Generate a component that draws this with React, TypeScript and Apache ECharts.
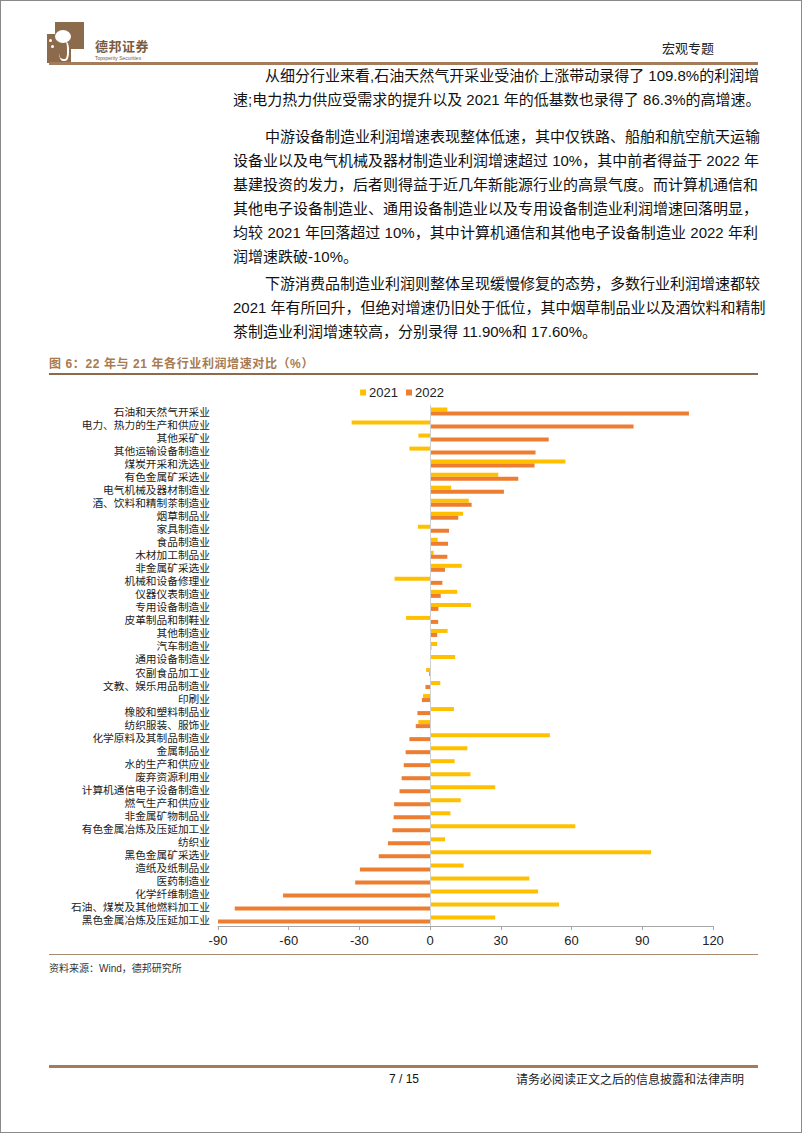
import React, { useEffect, useRef } from "react";
import * as echarts from "echarts";

const categories = [
  "石油和天然气开采业",
  "电力、热力的生产和供应业",
  "其他采矿业",
  "其他运输设备制造业",
  "煤炭开采和洗选业",
  "有色金属矿采选业",
  "电气机械及器材制造业",
  "酒、饮料和精制茶制造业",
  "烟草制品业",
  "家具制造业",
  "食品制造业",
  "木材加工制品业",
  "非金属矿采选业",
  "机械和设备修理业",
  "仪器仪表制造业",
  "专用设备制造业",
  "皮革制品和制鞋业",
  "其他制造业",
  "汽车制造业",
  "通用设备制造业",
  "农副食品加工业",
  "文教、娱乐用品制造业",
  "印刷业",
  "橡胶和塑料制品业",
  "纺织服装、服饰业",
  "化学原料及其制品制造业",
  "金属制品业",
  "水的生产和供应业",
  "废弃资源利用业",
  "计算机通信电子设备制造业",
  "燃气生产和供应业",
  "非金属矿物制品业",
  "有色金属冶炼及压延加工业",
  "纺织业",
  "黑色金属矿采选业",
  "造纸及纸制品业",
  "医药制造业",
  "化学纤维制造业",
  "石油、煤炭及其他燃料加工业",
  "黑色金属冶炼及压延加工业",
];

const values2021 = [
  7.3, -33.3, -5.0, -8.8, 57.4, 28.9, 8.9, 16.4, 14.0, -5.2, 3.2, 1.5, 13.4,
  -15.1, 11.5, 17.3, -10.2, 7.4, 3.0, 10.6, -1.7, 4.3, -3.0, 10.1, -5.0, 50.8,
  15.8, 10.4, 17.1, 27.6, 13.0, 8.6, 61.6, 6.3, 93.7, 14.2, 42.1, 45.8, 54.7,
  27.6,
];

const values2022 = [
  109.8, 86.3, 50.3, 44.7, 44.3, 37.4, 31.3, 17.6, 11.9, 8.0, 7.6, 7.3, 6.3,
  5.2, 4.5, 3.5, 3.4, 3.0, 0.5, 0.2, -0.4, -2.0, -3.5, -5.4, -6.1, -8.8, -10.4,
  -11.2, -12.1, -13.0, -15.3, -15.5, -16.0, -17.9, -21.8, -29.8, -31.8, -62.4,
  -82.9, -90.1,
];

const seriesNames = ["2021", "2022"];
const xTicks = { min: -90, max: 120, interval: 30 };

const para1 = [
  "从细分行业来看,石油天然气开采业受油价上涨带动录得了 109.8%的利润增",
  "速;电力热力供应受需求的提升以及 2021 年的低基数也录得了 86.3%的高增速。",
];
const para2 = [
  "中游设备制造业利润增速表现整体低速，其中仅铁路、船舶和航空航天运输",
  "设备业以及电气机械及器材制造业利润增速超过 10%，其中前者得益于 2022 年",
  "基建投资的发力，后者则得益于近几年新能源行业的高景气度。而计算机通信和",
  "其他电子设备制造业、通用设备制造业以及专用设备制造业利润增速回落明显，",
  "均较 2021 年回落超过 10%，其中计算机通信和其他电子设备制造业 2022 年利",
  "润增速跌破-10%。",
];
const para3 = [
  "下游消费品制造业利润则整体呈现缓慢修复的态势，多数行业利润增速都较",
  "2021 年有所回升，但绝对增速仍旧处于低位，其中烟草制品业以及酒饮料和精制",
  "茶制造业利润增速较高，分别录得 11.90%和 17.60%。",
];

const FONT = '"Liberation Sans", "Noto Sans CJK SC", sans-serif';
const BROWN = "#a27c5b";

function Paragraph({ lines, top, lh }: { lines: string[]; top: number; lh: number }) {
  return (
    <>
      {lines.map((t, i) => {
        const first = i === 0;
        const last = i === lines.length - 1;
        return (
          <div
            key={i}
            style={{
              position: "absolute",
              left: first ? 264 : 232,
              width: first ? 493 : 525,
              top: top + i * lh - lh / 2,
              height: lh,
              lineHeight: lh + "px",
              fontSize: 15,
              color: "#111",
              whiteSpace: "nowrap",
              textAlign: last ? "left" : "justify",
              textAlignLast: last ? "left" : "justify",
              fontFamily: FONT,
            }}
          >
            {t}
          </div>
        );
      })}
    </>
  );
}

function Chart() {
  const ref = useRef<HTMLDivElement>(null);
  useEffect(() => {
    if (!ref.current) return;
    const chart = echarts.init(ref.current, null, { renderer: "svg" });
    chart.setOption({
      animation: false,
      legend: {
        data: seriesNames,
        top: 0,
        left: "center",
        itemWidth: 6,
        itemHeight: 6,
        itemGap: 8,
        icon: "rect",
        textStyle: { fontSize: 13, color: "#222", fontFamily: FONT, padding: [0, 0, 0, -2] },
      },
      grid: { left: 217, right: 90, top: 24, bottom: 30 },
      xAxis: {
        type: "value",
        min: xTicks.min,
        max: xTicks.max,
        interval: xTicks.interval,
        axisLine: { show: true, lineStyle: { color: "#a6a6a6", width: 1 } },
        axisTick: { show: true, length: 4, lineStyle: { color: "#a6a6a6" } },
        axisLabel: { fontSize: 13, color: "#222", fontFamily: FONT, margin: 8 },
        splitLine: { show: false },
      },
      yAxis: {
        type: "category",
        inverse: true,
        data: categories,
        axisLine: { show: false, onZero: false },
        axisTick: { show: false },
        axisLabel: {
          fontSize: 10.7,
          color: "#222",
          fontFamily: '"Noto Sans CJK SC", sans-serif',
          margin: 8,
          interval: 0,
        },
      },
      series: [
        {
          name: seriesNames[0],
          type: "bar",
          data: values2021,
          barWidth: 4,
          barGap: "0%",
          itemStyle: { color: "#ffc000" },
          markLine: {
            silent: true,
            symbol: "none",
            label: { show: false },
            lineStyle: { color: "#d0d0d0", width: 1, type: "solid" },
            data: [{ xAxis: 0 }],
          },
        },
        {
          name: seriesNames[1],
          type: "bar",
          data: values2022,
          barWidth: 4,
          barGap: "0%",
          itemStyle: { color: "#ed7d31" },
        },
      ],
    });
    return () => chart.dispose();
  }, []);
  return (
    <div
      ref={ref}
      style={{ position: "absolute", left: 0, top: 380, width: 802, height: 575 }}
    />
  );
}

export default function App() {
  useEffect(() => {
    document.body.style.margin = "0";
  }, []);
  return (
    <div
      style={{
        position: "absolute",
        left: 0,
        top: 0,
        width: 802,
        height: 1133,
        background: "#fff",
        boxSizing: "border-box",
        border: "1px solid #8a8a8a",
        overflow: "hidden",
        fontFamily: FONT,
      }}
    >
      {/* logo */}
      <div style={{ position: "absolute", left: 46, top: 21, width: 37, height: 41, background: "#8c6a4c" }} />
      <div style={{ position: "absolute", left: 46, top: 21, width: 8, height: 12, background: "#fff" }} />
      <div style={{ position: "absolute", left: 70, top: 48, width: 13, height: 14, background: "#fff" }} />
      <div style={{ position: "absolute", left: 54, top: 29, width: 16, height: 13, borderRadius: "50%", background: "#fff" }} />
      <div style={{ position: "absolute", left: 58, top: 40, width: 8, height: 18, borderRadius: "40%", border: "2px solid #fff", borderLeft: "none", borderTop: "none" }} />
      <div style={{ position: "absolute", left: 48, top: 38, width: 3, height: 3, borderRadius: "50%", background: "#fff" }} />
      <div style={{ position: "absolute", left: 50, top: 44, width: 3, height: 3, borderRadius: "50%", background: "#fff" }} />
      <div
        style={{
          position: "absolute",
          left: 94,
          top: 37,
          fontSize: 13,
          fontWeight: "bold",
          color: "#7b5b3f",
          fontFamily: '"Noto Sans CJK SC", sans-serif',
          lineHeight: "16px",
          letterSpacing: 0.5,
        }}
      >
        德邦证券
      </div>
      <div style={{ position: "absolute", left: 94, top: 54, fontSize: 5, color: "#7b5b3f", lineHeight: "6px" }}>
        Topsperity Securities
      </div>
      <div
        style={{
          position: "absolute",
          right: 802 - 715,
          top: 39,
          fontSize: 13,
          color: "#222",
          lineHeight: "16px",
          fontFamily: '"Noto Sans CJK SC", sans-serif',
        }}
      >
        宏观专题
      </div>
      <div style={{ position: "absolute", left: 48, top: 61, width: 709, height: 3, background: BROWN }} />

      <Paragraph lines={para1} top={75} lh={24.5} />
      <Paragraph lines={para2} top={136} lh={24} />
      <Paragraph lines={para3} top={283} lh={24} />

      <div
        style={{
          position: "absolute",
          left: 48,
          top: 355,
          fontSize: 12,
          fontWeight: "bold",
          color: "#a87a52",
          lineHeight: "16px",
          letterSpacing: 0.6,
          fontFamily: FONT,
        }}
      >
        图 6：22 年与 21 年各行业利润增速对比（%）
      </div>
      <div style={{ position: "absolute", left: 48, top: 372, width: 709, height: 1.5, background: "#8e6a4c" }} />

      <Chart />

      <div style={{ position: "absolute", left: 48, top: 953, width: 709, height: 1, background: "#a88a70" }} />
      <div
        style={{
          position: "absolute",
          left: 48,
          top: 961,
          fontSize: 10,
          color: "#333",
          lineHeight: "14px",
          fontFamily: FONT,
        }}
      >
        资料来源：Wind，德邦研究所
      </div>

      <div style={{ position: "absolute", left: 48, top: 1064, width: 709, height: 3, background: BROWN }} />
      <div
        style={{
          position: "absolute",
          left: 388,
          top: 1070,
          fontSize: 12,
          color: "#111",
          lineHeight: "16px",
          fontFamily: FONT,
        }}
      >
        7 / 15
      </div>
      <div
        style={{
          position: "absolute",
          left: 515,
          top: 1070,
          fontSize: 12,
          color: "#222",
          lineHeight: "16px",
          fontFamily: '"Noto Sans CJK SC", sans-serif',
        }}
      >
        请务必阅读正文之后的信息披露和法律声明
      </div>
    </div>
  );
}
